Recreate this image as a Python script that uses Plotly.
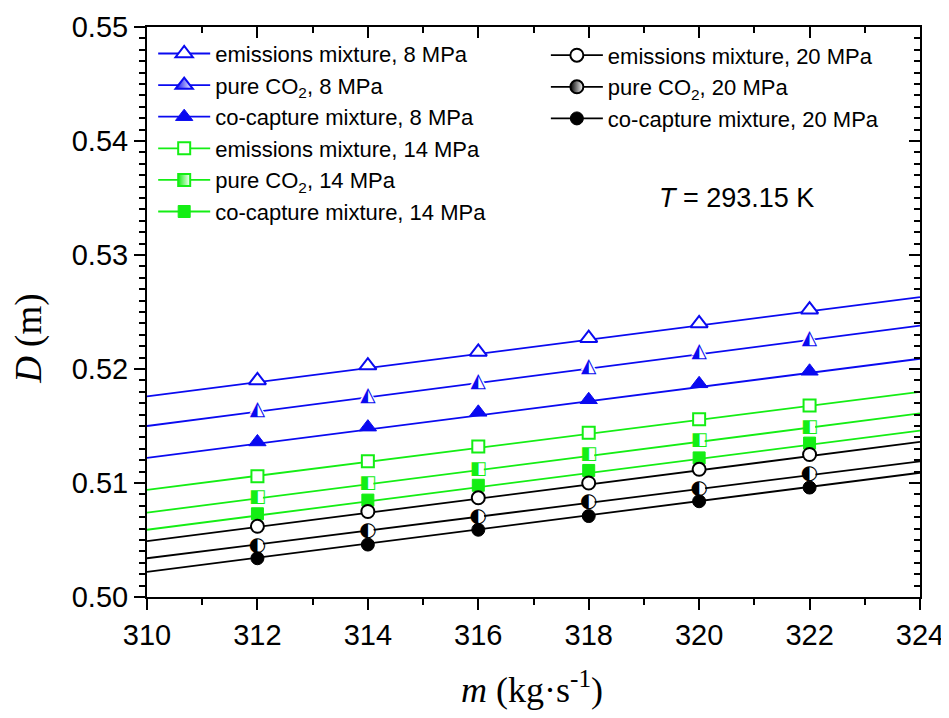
import plotly.graph_objects as go

# ---- data ----
m_flow = [312, 314, 316, 318, 320, 322]
line_x = [310, 324]

names = [
    "emissions mixture, 8 MPa",
    "pure CO<sub>2</sub>, 8 MPa",
    "co-capture mixture, 8 MPa",
    "emissions mixture, 14 MPa",
    "pure CO<sub>2</sub>, 14 MPa",
    "co-capture mixture, 14 MPa",
    "emissions mixture, 20 MPa",
    "pure CO<sub>2</sub>, 20 MPa",
    "co-capture mixture, 20 MPa",
]

D_emis_8 = [0.5190, 0.5203, 0.5215, 0.5227, 0.5240, 0.5252]
D_pure_8 = [0.5164, 0.5176, 0.5189, 0.5202, 0.5215, 0.5226]
D_cocap_8 = [0.5136, 0.5149, 0.5162, 0.5173, 0.5187, 0.5198]
D_emis_14 = [0.5106, 0.5119, 0.5132, 0.5144, 0.5156, 0.5168]
D_pure_14 = [0.5087, 0.5100, 0.5112, 0.5125, 0.5137, 0.5149]
D_cocap_14 = [0.5073, 0.5085, 0.5098, 0.5111, 0.5122, 0.5135]
D_emis_20 = [0.5062, 0.5075, 0.5087, 0.5100, 0.5112, 0.5125]
D_pure_20 = [0.5045, 0.5058, 0.5070, 0.5083, 0.5095, 0.5108]
D_cocap_20 = [0.5034, 0.5046, 0.5059, 0.5071, 0.5084, 0.5096]

# fitted-line end values at m = 310 and m = 324
fit_emis_8 = [0.5176, 0.5263]
fit_pure_8 = [0.5150, 0.5238]
fit_cocap_8 = [0.5122, 0.5209]
fit_emis_14 = [0.5094, 0.5180]
fit_pure_14 = [0.5074, 0.5161]
fit_cocap_14 = [0.5059, 0.5146]
fit_emis_20 = [0.5049, 0.5136]
fit_pure_20 = [0.5034, 0.5119]
fit_cocap_20 = [0.5022, 0.5109]

x_ticks = [310, 312, 314, 316, 318, 320, 322, 324]
y_ticks = [0.50, 0.51, 0.52, 0.53, 0.54, 0.55]
y_tick_labels = ["0.50", "0.51", "0.52", "0.53", "0.54", "0.55"]

# ---- styles ----
BLUE = "#0a0af0"
GREEN = "#14ee14"
BLACK = "#000000"

series = [
    (D_emis_8, fit_emis_8, BLUE, "triangle-up", "open", 15, "◭", 19, "legend"),
    (D_pure_8, fit_pure_8, BLUE, "triangle-up", "half", 15, "◭", 20, "legend"),
    (D_cocap_8, fit_cocap_8, BLUE, "triangle-up", "full", 15, "◭", 19, "legend"),
    (D_emis_14, fit_emis_14, GREEN, "square", "open", 12, "◧", 18, "legend"),
    (D_pure_14, fit_pure_14, GREEN, "square", "half", 12, "◧", 18, "legend"),
    (D_cocap_14, fit_cocap_14, GREEN, "square", "full", 12, "◧", 18, "legend"),
    (D_emis_20, fit_emis_20, BLACK, "circle", "open", 13, "◐", 20, "legend2"),
    (D_pure_20, fit_pure_20, BLACK, "circle", "half", 13, "◐", 20, "legend2"),
    (D_cocap_20, fit_cocap_20, BLACK, "circle", "full", 13, "◐", 20, "legend2"),
]

fig = go.Figure()

# fitted lines
for ys, fit, col, sym, fill, size, glyph, gsize, leg in series:
    fig.add_trace(go.Scatter(x=line_x, y=fit, mode="lines",
                             line=dict(color=col, width=1.8),
                             showlegend=False, hoverinfo="skip"))

# markers
for (ys, fit, col, sym, fill, size, glyph, gsize, leg), nm in zip(series, names):
    if fill == "open":
        mk = dict(symbol=sym, size=size, color="white", line=dict(color=col, width=2))
    elif fill == "full":
        mk = dict(symbol=sym, size=size, color=col, line=dict(color=col, width=1))
    else:
        mk = dict(symbol=sym, size=size - 1, color="white", line=dict(color="white", width=0))
    fig.add_trace(go.Scatter(x=m_flow, y=ys, mode="markers", marker=mk,
                             showlegend=False, name=nm))
    if fill == "half":
        fig.add_trace(go.Scatter(x=m_flow, y=ys, mode="text", text=[glyph] * len(ys),
                                 textposition="middle center",
                                 textfont=dict(family="DejaVu Sans", size=gsize, color=col),
                                 showlegend=False, hoverinfo="skip"))

# legend entries
for (ys, fit, col, sym, fill, size, glyph, gsize, leg), nm in zip(series, names):
    if fill == "open":
        mk = dict(symbol=sym, size=size, color="white", line=dict(color=col, width=2))
    elif fill == "full":
        mk = dict(symbol=sym, size=size, color=col, line=dict(color=col, width=1))
    else:
        mk = dict(symbol=sym, size=size, color=col, line=dict(color=col, width=2),
                  gradient=dict(type="horizontal", color="white"))
    fig.add_trace(go.Scatter(x=[None], y=[None], mode="lines+markers", name=nm,
                             line=dict(color=col, width=1.8), marker=mk,
                             legend=leg, showlegend=True))

axis_font = dict(family="Liberation Sans", size=29, color="black")

fig.update_layout(
    width=941, height=710,
    margin=dict(l=139, r=29, t=19, b=121, autoexpand=False),
    paper_bgcolor="white", plot_bgcolor="white",
    font=dict(family="Liberation Sans", color="black"),
    xaxis=dict(range=[310, 324], tickvals=x_ticks, ticks="outside", ticklen=11,
               tickwidth=2, tickcolor="black", showline=True, linewidth=2,
               linecolor="black", showgrid=False, zeroline=False, tickfont=axis_font,
               automargin=False,
               minor=dict(dtick=1, ticks="outside", ticklen=6, tickwidth=1.5,
                          tickcolor="black", showgrid=False)),
    yaxis=dict(range=[0.50, 0.55], tickvals=y_ticks, ticktext=y_tick_labels,
               ticks="outside", ticklen=11, tickwidth=2, tickcolor="black",
               showline=True, linewidth=2, linecolor="black", showgrid=False,
               zeroline=False, tickfont=axis_font, automargin=False,
               minor=dict(dtick=0.001, tick0=0.5, ticks="outside", ticklen=6,
                          tickwidth=1.5, tickcolor="black", showgrid=False)),
    xaxis2=dict(overlaying="x", side="top", range=[310, 324], tickvals=x_ticks,
                ticks="inside", ticklen=11, tickwidth=2, tickcolor="black",
                showline=True, linewidth=2, linecolor="black", showgrid=False,
                zeroline=False, showticklabels=False, automargin=False,
                minor=dict(dtick=1, ticks="inside", ticklen=6, tickwidth=1.5,
                           tickcolor="black", showgrid=False)),
    yaxis2=dict(overlaying="y", side="right", range=[0.50, 0.55], tickvals=y_ticks,
                ticks="inside", ticklen=11, tickwidth=2, tickcolor="black",
                showline=True, linewidth=2, linecolor="black", showgrid=False,
                zeroline=False, showticklabels=False, automargin=False,
                minor=dict(dtick=0.001, tick0=0.5, ticks="inside", ticklen=6,
                           tickwidth=1.5, tickcolor="black", showgrid=False)),
    legend=dict(x=0.008, y=0.990, xanchor="left", yanchor="top",
                bgcolor="rgba(0,0,0,0)", borderwidth=0, itemwidth=52,
                font=dict(family="Liberation Sans", size=22, color="black"),
                tracegroupgap=0),
    legend2=dict(x=0.516, y=0.987, xanchor="left", yanchor="top",
                 bgcolor="rgba(0,0,0,0)", borderwidth=0, itemwidth=52,
                 font=dict(family="Liberation Sans", size=22, color="black"),
                 tracegroupgap=0),
    annotations=[
        dict(text="<i>D</i> (m)", xref="paper", yref="paper", x=-0.152, y=0.452,
             xanchor="center", yanchor="middle", textangle=-90, showarrow=False,
             font=dict(family="Liberation Serif", size=37, color="black")),
        dict(text="<i>m</i> (kg·s<sup>-1</sup>)", xref="paper", yref="paper",
             x=0.498, y=-0.159, xanchor="center", yanchor="middle", showarrow=False,
             font=dict(family="Liberation Serif", size=36, color="black")),
        dict(text="<i>T</i> = 293.15 K", xref="paper", yref="paper", x=0.762, y=0.700,
             xanchor="center", yanchor="middle", showarrow=False,
             font=dict(family="Liberation Sans", size=27, color="black")),
    ],
)

# make the mirrored axes exist by attaching an invisible empty trace
fig.add_trace(go.Scatter(x=[None], y=[None], xaxis="x2", yaxis="y2",
                         showlegend=False, hoverinfo="skip"))

fig.write_html("out.html")
